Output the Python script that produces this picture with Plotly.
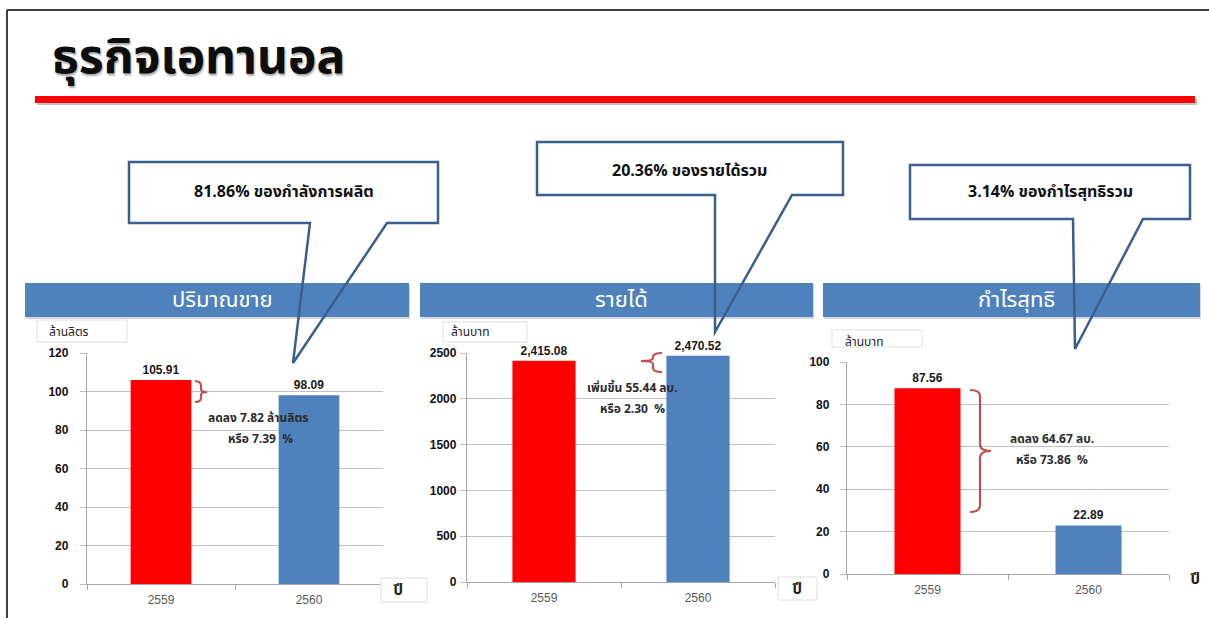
import plotly.graph_objects as go

W, H = 1209, 618

# ---------------- data ----------------
years = ["2559", "2560"]
sales_volume = [105.91, 98.09]      # ล้านลิตร
revenue = [2415.08, 2470.52]        # ล้านบาท
net_profit = [87.56, 22.89]         # ล้านบาท
bar_colors = ["#FF0000", "#4F81BD"]

title_text = "ธุรกิจเอทานอล"
panel_titles = ["ปริมาณขาย", "รายได้", "กำไรสุทธิ"]
unit_labels = ["ล้านลิตร", "ล้านบาท", "ล้านบาท"]
callout_texts = ["81.86% ของกำลังการผลิต", "20.36% ของรายได้รวม", "3.14% ของกำไรสุทธิรวม"]
change_texts = [
    ("ลดลง 7.82 ล้านลิตร", "หรือ 7.39  %"),
    ("เพิ่มขึ้น 55.44 ลบ.", "หรือ 2.30  %"),
    ("ลดลง 64.67 ลบ.", "หรือ 73.86  %"),
]
y_ranges = [[0, 120], [0, 2500], [0, 100]]
y_dticks = [20, 500, 20]

THAI = "Noto Sans Thai, Loma, Garuda, Tahoma, Noto Sans, sans-serif"
NUM = "Liberation Sans, Arial, sans-serif"


def X(px):
    return px / W


def Y(py):
    return 1 - py / H


def path(cmds):
    # cmds: list of (cmd, [x, y, ...]) in pixels
    out = []
    for cmd, vals in cmds:
        coords = [f"{X(vals[i]):.5f},{Y(vals[i+1]):.5f}" for i in range(0, len(vals), 2)]
        out.append((cmd + " " + " ".join(coords)).strip())
    return " ".join(out)


fig = go.Figure()

# panel geometry (pixels): x-left, x-right, y-top, y-bottom of plot area
panels = [
    (87, 383, 353, 584),
    (467, 775, 353, 582),
    (847, 1169, 362, 574),
]
standoffs = [9, 1, 8]
series = [sales_volume, revenue, net_profit]
templates = ["%{y:.2f}", "%{y:,.2f}", "%{y:.2f}"]

for i, (x0, x1, y0, y1) in enumerate(panels):
    ax = "" if i == 0 else str(i + 1)
    fig.add_trace(go.Bar(
        x=years, y=series[i],
        marker=dict(color=bar_colors, line=dict(width=0)),
        width=0.41,
        texttemplate=templates[i], textposition="outside",
        textfont=dict(family=NUM, size=12, color="#1a1a1a", weight="bold"),
        cliponaxis=False, constraintext="none",
        xaxis="x" + ax, yaxis="y" + ax, showlegend=False, hoverinfo="x+y",
    ))
    fig.layout["xaxis" + ax] = dict(
        domain=[X(x0), X(x1)], anchor="y" + ax, type="category",
        range=[-0.5, 1.5], showline=True, linecolor="#A6A6A6", linewidth=1.3,
        ticks="outside", tickson="boundaries", ticklen=5, tickcolor="#A6A6A6",
        tickfont=dict(family=NUM, size=12, color="#595959"),
        showgrid=False, zeroline=False, fixedrange=True, ticklabelstandoff=4,
    )
    fig.layout["yaxis" + ax] = dict(
        domain=[Y(y1), Y(y0)], anchor="x" + ax, range=y_ranges[i],
        dtick=y_dticks[i], showline=True, linecolor="#A6A6A6", linewidth=1.3,
        ticks="outside", ticklen=6, tickcolor="#BFBFBF",
        gridcolor="#C0C0C0", gridwidth=1.2, zeroline=False,
        tickfont=dict(family=NUM, size=12, color="#111111", weight="bold"),
        ticklabelstandoff=standoffs[i], fixedrange=True,
    )

shapes = []
annotations = []

# slide border (top and left)
shapes.append(dict(type="line", xref="paper", yref="paper", x0=X(7), x1=X(1209), y0=Y(10), y1=Y(10),
                   line=dict(color="#3F3F3F", width=2)))
shapes.append(dict(type="line", xref="paper", yref="paper", x0=X(7), x1=X(7), y0=Y(10), y1=Y(618),
                   line=dict(color="#3F3F3F", width=2)))

# title underline with shadow
shapes.append(dict(type="rect", xref="paper", yref="paper", x0=X(37), x1=X(1197), y0=Y(99), y1=Y(105),
                   fillcolor="rgba(120,120,120,0.45)", line=dict(width=0)))
shapes.append(dict(type="rect", xref="paper", yref="paper", x0=X(35), x1=X(1195), y0=Y(96), y1=Y(103),
                   fillcolor="#FF0000", line=dict(width=0)))

annotations.append(dict(text=f"<b>{title_text}</b>", xref="paper", yref="paper", x=X(50), y=Y(58),
                        xanchor="left", yanchor="middle", showarrow=False,
                        font=dict(family=THAI, size=48, color="#0d0d0d", shadow="1px 2px 2px #a8a8a8")))

# panel header bars
headers = [(25, 409), (420, 813), (823, 1200)]
for (hx0, hx1), t in zip(headers, panel_titles):
    shapes.append(dict(type="rect", xref="paper", yref="paper", x0=X(hx0 + 1), x1=X(hx1 + 1), y0=Y(285), y1=Y(319),
                       fillcolor="rgba(140,140,140,0.35)", line=dict(width=0)))
    shapes.append(dict(type="rect", xref="paper", yref="paper", x0=X(hx0), x1=X(hx1), y0=Y(283), y1=Y(317),
                       fillcolor="#4F81BD", line=dict(width=0)))
    annotations.append(dict(text=t, xref="paper", yref="paper", x=X((hx0 + hx1) / 2 + 5), y=Y(300),
                            xanchor="center", yanchor="middle", showarrow=False,
                            font=dict(family=THAI, size=22, color="#FFFFFF")))

# unit boxes
unit_boxes = [(37, 127, 320, 342, 47, 332), (443, 527, 322, 342, 449, 332), (832, 922, 330, 347, 843, 342)]
for (bx0, bx1, by0, by1, tx, ty), u in zip(unit_boxes, unit_labels):
    shapes.append(dict(type="rect", xref="paper", yref="paper", x0=X(bx0), x1=X(bx1), y0=Y(by1), y1=Y(by0),
                       fillcolor="#FFFFFF", line=dict(color="#E0E0E0", width=1)))
    annotations.append(dict(text=u, xref="paper", yref="paper", x=X(tx), y=Y(ty),
                            xanchor="left", yanchor="middle", showarrow=False,
                            font=dict(family=THAI, size=12, color="#222222")))

# year unit boxes "ปี"
year_boxes = [(381, 427, 578, 602, 398, 590), (778, 817, 577, 600, 797, 589), (None, None, None, None, 1195, 579)]
for bx0, bx1, by0, by1, tx, ty in year_boxes:
    if bx0 is not None:
        shapes.append(dict(type="rect", xref="paper", yref="paper", x0=X(bx0), x1=X(bx1), y0=Y(by1), y1=Y(by0),
                           fillcolor="#FFFFFF", line=dict(color="#E0E0E0", width=1)))
    annotations.append(dict(text="<b>ปี</b>", xref="paper", yref="paper", x=X(tx), y=Y(ty),
                            xanchor="center", yanchor="middle", showarrow=False,
                            font=dict(family=THAI, size=15, color="#222222")))

# brackets
BR = "#C0504D"
brackets = [
    path([("M", [195, 381]), ("Q", [201, 381, 201, 386]), ("L", [201, 389]), ("Q", [201, 392, 207, 392]),
          ("Q", [201, 392, 201, 395]), ("L", [201, 398]), ("Q", [201, 402, 195, 402])]),
    path([("M", [662, 353]), ("Q", [653, 353, 653, 357]), ("L", [653, 358]), ("Q", [653, 361, 641, 361]),
          ("Q", [653, 361, 653, 364]), ("L", [653, 368]), ("Q", [653, 372, 662, 372])]),
    path([("M", [970, 390]), ("Q", [980, 390, 980, 396]), ("L", [980, 444]), ("Q", [980, 451, 991, 451]),
          ("Q", [980, 451, 980, 458]), ("L", [980, 505]), ("Q", [980, 512, 970, 512])]),
]
for p in brackets:
    shapes.append(dict(type="path", xref="paper", yref="paper", path=p, line=dict(color=BR, width=2.2)))

# change annotations (two separate lines)
change_pos = [((258, 418), (260, 439)), ((633, 388), (633, 409)), ((1052, 439), (1052, 460))]
for (l1, l2), (p1, p2) in zip(change_texts, change_pos):
    for t, (tx, ty) in ((l1, p1), (l2, p2)):
        annotations.append(dict(text=f"<b>{t}</b>", xref="paper", yref="paper", x=X(tx), y=Y(ty),
                                xanchor="center", yanchor="middle", showarrow=False,
                                font=dict(family=THAI, size=12, color="#2b2b2b")))

# callouts (box + pointer)
CL = "#3A5F8F"
callouts = [
    # box x0, x1, y0, y1, base-left, base-right, tip(x, y), text center y
    (129, 438, 162, 223, 310, 387, (293, 363), 192),
    (537, 843, 142, 195, 715, 792, (715, 332), 171),
    (910, 1190, 165, 219, 1073, 1143, (1075, 349), 192),
]
for (bx0, bx1, by0, by1, bl, br, (tx, ty), tcy), t in zip(callouts, callout_texts):
    shapes.append(dict(type="rect", xref="paper", yref="paper", x0=X(bx0), x1=X(bx1), y0=Y(by1), y1=Y(by0),
                       fillcolor="#FFFFFF", line=dict(width=0)))
    p = path([("M", [bl, by1]), ("L", [bx0, by1]), ("L", [bx0, by0]), ("L", [bx1, by0]),
              ("L", [bx1, by1]), ("L", [br, by1]), ("L", [tx, ty]), ("Z", [])])
    shapes.append(dict(type="path", xref="paper", yref="paper", path=p, line=dict(color=CL, width=2.5)))
    annotations.append(dict(text=f"<b>{t}</b>", xref="paper", yref="paper", x=X((bx0 + bx1) / 2), y=Y(tcy),
                            xanchor="center", yanchor="middle", showarrow=False,
                            font=dict(family=THAI, size=16, color="#111111")))

fig.update_layout(
    width=W, height=H, margin=dict(l=0, r=0, t=0, b=0, autoexpand=False),
    paper_bgcolor="#FFFFFF", plot_bgcolor="#FFFFFF",
    shapes=shapes, annotations=annotations, bargap=0.59,
)

post = ("document.documentElement.style.margin='0';document.body.style.margin='0';"
        "document.documentElement.style.overflow='hidden';document.body.style.overflow='hidden';")
fig.write_html("out.html", config={"displayModeBar": False, "responsive": False}, post_script=post)
